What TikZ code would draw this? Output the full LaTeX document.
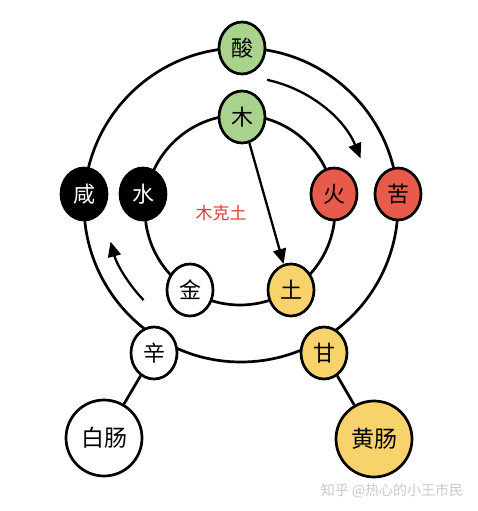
\documentclass[tikz,border=0pt]{standalone}
\usepackage{fontspec}
\setmainfont{Noto Sans CJK SC}
\usetikzlibrary{shapes.geometric,arrows.meta}
\definecolor{cgreen}{HTML}{A9D38C}
\definecolor{cred}{HTML}{E85B4B}
\definecolor{cyellow}{HTML}{F8D36C}
\definecolor{ctext}{HTML}{D9402E}
\definecolor{cwm}{HTML}{C9C9C9}
\tikzset{
  ring/.style={line width=2.7pt, draw=black},
  elem/.style={ellipse, draw=black, line width=2.7pt, minimum width=46pt, minimum height=52pt, inner sep=0pt, font=\fontsize{22}{22}\selectfont},
  organ/.style={circle, draw=black, line width=2.7pt, minimum size=76pt, inner sep=0pt, font=\fontsize{23}{23}\selectfont},
  link/.style={line width=2.7pt, draw=black},
  arr/.style={line width=2.3pt, -{Triangle[length=15pt,width=13pt]}},
}
\begin{document}
\begin{tikzpicture}[x=1pt,y=1pt]
\useasboundingbox (0,0) rectangle (478,-511);
\fill[white] (0,0) rectangle (478,-511);
% rings
\coordinate (oc) at (241,-205);
\coordinate (ic) at (240,-210);
\coordinate (ac) at (240,-207);
\draw[ring] (oc) circle[radius=157];
\draw[ring] (ic) circle[radius=95];
% nodes outer
\node[elem, fill=cgreen] (suan) at (242,-48) {酸};
\node[elem, fill=cred] (ku) at (398,-194) {苦};
\node[elem, fill=cyellow] (gan) at (324,-353) {甘};
\node[elem, fill=white] (xin) at (154,-353) {辛};
\node[elem, fill=black, text=white] (xian) at (84,-194) {咸};
% nodes inner
\node[elem, fill=cgreen] (mu) at (242,-117) {木};
\node[elem, fill=cred] (huo) at (334,-194) {火};
\node[elem, fill=cyellow] (tu) at (291,-290) {土};
\node[elem, fill=white] (jin) at (190,-290) {金};
\node[elem, fill=black, text=white] (shui) at (143,-194) {水};
% organs
\node[organ, fill=white] (bai) at (104,-438) {白肠};
\node[organ, fill=cyellow] (huang) at (374,-439) {黄肠};
\draw[link] (xin) -- (bai);
\draw[link] (gan) -- (huang);
% arrows
\draw[arr] (mu) -- (tu);
\draw[arr] (ac) ++(78:130) arc[start angle=78, end angle=22, radius=130];
\draw[arr] (ac) ++(224:134) arc[start angle=224, end angle=195, radius=134];
% labels
\node[text=ctext, font=\fontsize{17}{17}\selectfont] (ke) at (221,-213) {木克土};
\node[text=cwm, font=\fontsize{14}{14}\selectfont] (wm) at (392,-491) {知乎 @热心的小王市民};
\end{tikzpicture}
\end{document}
